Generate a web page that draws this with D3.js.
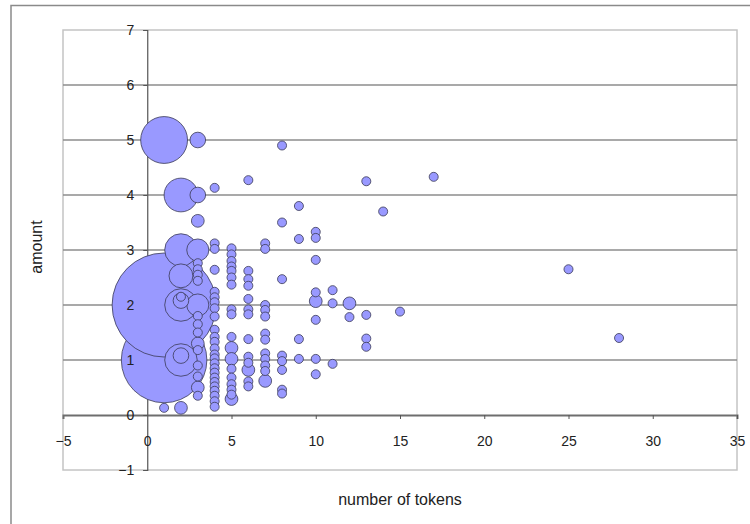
<!DOCTYPE html>
<html>
  <head>
    <meta http-equiv="Content-Type" content="text/html; charset=UTF-8" />
    <title>Bubble-Tokens</title>
    <script src="https://cdn.jsdelivr.net/npm/d3@7"></script>
    <style>
      body { margin: 0; background: #ffffff; }
      text { font-family: "Liberation Sans", Arial, sans-serif; }
    </style>
  </head>
  <body>
    <svg width="750" height="524" id="mainsvg"></svg>
    <script>
        // data, one column of bubbles per token count
        const tokenColumns = [1, 2, 3, 4, 5, 6, 7, 8, 9, 10, 11, 12, 13, 14, 15, 17, 25, 28];
        const amountsByColumn = [
          [5, 2, 1, 0.13],
          [4, 3, 2.53, 2, 2.08, 2.15, 1, 1.08, 0.13],
          [5, 4, 3.53, 3, 2.76, 2.65, 2.55, 2.44, 2, 1.8, 1.65, 1.5, 1.3, 1.18, 0.9, 0.7, 0.5, 0.35],
          [4.13, 3.12, 3.02, 2.64, 2.24, 2.14, 2.05, 1.94, 1.79, 1.55, 1.42, 1.33, 1.21, 1.1, 1.03, 0.94, 0.85, 0.77, 0.68, 0.6, 0.52, 0.44, 0.35, 0.25, 0.15],
          [3.03, 2.92, 2.8, 2.7, 2.62, 2.5, 2.37, 1.92, 1.83, 1.42, 1.22, 1.02, 0.84, 0.68, 0.56, 0.46, 0.37, 0.29],
          [4.27, 2.62, 2.47, 2.35, 2.11, 1.92, 1.83, 1.38, 1.06, 0.95, 0.82, 0.61, 0.52],
          [3.12, 3.02, 2.0, 1.91, 1.79, 1.48, 1.37, 1.12, 1.02, 0.9, 0.8, 0.62],
          [4.9, 3.5, 2.47, 1.08, 0.98, 0.82, 0.46, 0.39],
          [3.8, 3.2, 1.38, 1.02],
          [3.33, 3.22, 2.82, 2.23, 2.07, 1.73, 1.02, 0.74],
          [2.27, 2.03, 0.93],
          [2.03, 1.78],
          [4.25, 1.82, 1.39, 1.24],
          [3.7],
          [1.88],
          [4.33],
          [2.65],
          [1.4]
        ];
        // bubble size (how many cases) for each amount above
        const sizesByColumn = [
          [27, 133, 90, 1],
          [14, 13, 7, 13, 3, 1, 13, 3, 2],
          [3, 3, 2, 6, 1, 1, 1, 1, 6, 1, 1, 1, 2, 1, 1, 1, 2, 1],
          [1, 1, 1, 1, 1, 1, 1, 1, 1, 1, 1, 1, 1, 1, 1, 1, 1, 1, 1, 1, 1, 1, 1, 1, 1],
          [1, 1, 1, 1, 1, 1, 1, 1, 1, 1, 2, 2, 1, 1, 1, 1, 1, 2],
          [1, 1, 1, 1, 1, 1, 1, 1, 1, 1, 2, 1, 1],
          [1, 1, 1, 1, 1, 1, 1, 1, 1, 1, 1, 2],
          [1, 1, 1, 1, 1, 1, 1, 1],
          [1, 1, 1, 1],
          [1, 1, 1, 1, 2, 1, 1, 1],
          [1, 1, 1],
          [2, 1],
          [1, 1, 1, 1],
          [1],
          [1],
          [1],
          [1],
          [1]
        ];
        const xTicks = [-5, 0, 5, 10, 15, 20, 25, 30, 35];
        const yTicks = [-1, 0, 1, 2, 3, 4, 5, 6, 7];
        const xAxisLabel = 'number of tokens';
        const yAxisLabel = 'amount';

        const svg = d3.select('#mainsvg');
        const margin = {top: 30, right: 13, bottom: 54, left: 63};
        const width = +svg.attr('width');
        const height = +svg.attr('height');
        const innerWidth = width - margin.left - margin.right;
        const innerHeight = height - margin.top - margin.bottom;

        const data = [];
        tokenColumns.forEach((t, c) => {
          amountsByColumn[c].forEach((a, i) => {
            data.push({x: t, y: a, n: sizesByColumn[c][i]});
          });
        });
        // the two huge bubbles go first, bottom one under the top one,
        // then the rest from big to small so small bubbles stay on top
        const huge = d => d.n >= 50;
        data.sort((a, b) => {
          if (huge(a) && huge(b)) return a.y - b.y;
          if (huge(a) !== huge(b)) return huge(a) ? -1 : 1;
          return b.n - a.n;
        });

        const xScale = d3.scaleLinear().domain([-5, 35]).range([0, innerWidth]);
        const yScale = d3.scaleLinear().domain([-1, 7]).range([innerHeight, 0]);
        const rScale = d3.scaleSqrt().domain([0, d3.max(data, d => d.n)]).range([0, 52]);

        // outer chart frame
        svg.append('path')
          .attr('d', `M11,${height} V5.5 H${width}`)
          .attr('fill', 'none')
          .attr('stroke', '#8a8a8a')
          .attr('stroke-width', 1.5);

        const g = svg.append('g')
          .attr('transform', `translate(${margin.left}, ${margin.top})`);

        // plot area border
        g.append('rect')
          .attr('width', innerWidth)
          .attr('height', innerHeight)
          .attr('fill', '#ffffff')
          .attr('stroke', '#c4c4c4')
          .attr('stroke-width', 1.5);

        // horizontal gridlines
        g.append('g').selectAll('line')
          .data(yTicks.filter(d => d > 0 && d < 7))
          .enter().append('line')
          .attr('x1', 0).attr('x2', innerWidth)
          .attr('y1', d => yScale(d)).attr('y2', d => yScale(d))
          .attr('stroke', '#8c8c8c')
          .attr('stroke-width', 1.5);

        // axis lines + tick marks (under the bubbles)
        const xAxisGroup = g.append('g')
          .attr('transform', `translate(0, ${yScale(0)})`)
          .call(d3.axisBottom(xScale).tickValues(xTicks).tickSize(4).tickFormat(''));
        xAxisGroup.select('.domain').attr('stroke', '#6e6e6e').attr('stroke-width', 2);
        xAxisGroup.selectAll('.tick line').attr('stroke', '#555');
        xAxisGroup.selectAll('.tick').filter(d => d === 0 || d === -5).remove();

        const yAxisGroup = g.append('g')
          .attr('transform', `translate(${xScale(0)}, 0)`)
          .call(d3.axisLeft(yScale).tickValues(yTicks).tickSize(4).tickFormat(''));
        yAxisGroup.select('.domain').attr('stroke', '#555').attr('stroke-width', 1.2);
        yAxisGroup.selectAll('.tick line').attr('stroke', '#555');

        // bubbles
        g.append('g').selectAll('circle')
          .data(data)
          .enter().append('circle')
          .attr('cx', d => xScale(d.x))
          .attr('cy', d => yScale(d.y))
          .attr('r', d => rScale(d.n))
          .attr('fill', '#9999ff')
          .attr('stroke', '#3a3a55')
          .attr('stroke-width', 0.8);

        // tick labels sit on top of the bubbles
        const xLabels = g.append('g')
          .attr('transform', `translate(0, ${yScale(0)})`)
          .call(d3.axisBottom(xScale).tickValues(xTicks).tickSize(0).tickPadding(21).tickFormat(d3.format('d')));
        xLabels.select('.domain').remove();
        xLabels.selectAll('text').attr('font-size', 14).attr('fill', '#222')
          .style('font-family', '"Liberation Sans", Arial, sans-serif');

        const yLabels = g.append('g')
          .attr('transform', `translate(${xScale(0)}, 0)`)
          .call(d3.axisLeft(yScale).tickValues(yTicks).tickSize(0).tickPadding(13).tickFormat(d3.format('d')));
        yLabels.select('.domain').remove();
        yLabels.selectAll('text').attr('font-size', 14).attr('fill', '#222')
          .style('font-family', '"Liberation Sans", Arial, sans-serif');

        // axis titles
        svg.append('text')
          .attr('transform', `translate(42, ${margin.top + innerHeight / 2 - 3}) rotate(-90)`)
          .attr('text-anchor', 'middle')
          .attr('font-size', 16)
          .attr('fill', '#222')
          .text(yAxisLabel);

        svg.append('text')
          .attr('x', margin.left + innerWidth / 2)
          .attr('y', 505)
          .attr('text-anchor', 'middle')
          .attr('font-size', 16)
          .attr('fill', '#222')
          .text(xAxisLabel);
    </script>
  </body>
</html>
